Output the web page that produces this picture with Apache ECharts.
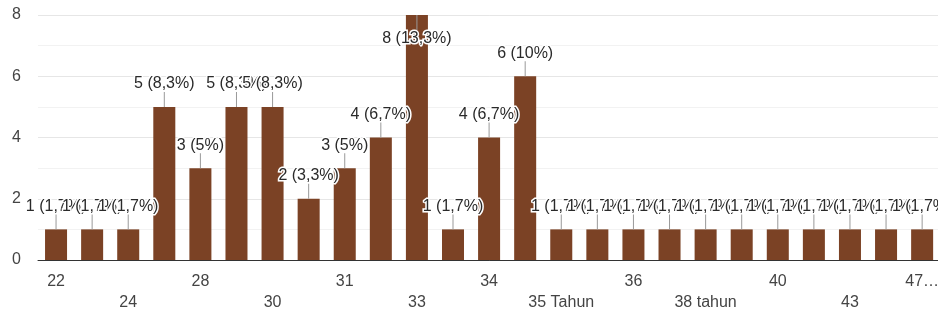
<!DOCTYPE html>
<html>
<head>
<meta charset="utf-8">
<script src="https://cdn.jsdelivr.net/npm/echarts@6/dist/echarts.min.js"></script>
<style>
  html, body { margin: 0; padding: 0; background: #fff; overflow: hidden; }
  #main { width: 942px; height: 313px; }
</style>
</head>
<body>
<div id="main"></div>
<script>
// data (hidden in-between labels are guesses)
var categories = ["22", "23", "24", "25", "28", "29", "30", "30 tahun", "31", "32", "33", "33 tahun",
  "34", "35", "35 Tahun", "35 tahun", "36", "37", "38 tahun", "39", "40", "42", "43", "45", "47 tahun"];
var counts = [1, 1, 1, 5, 3, 5, 5, 2, 3, 4, 8, 1, 4, 6, 1, 1, 1, 1, 1, 1, 1, 1, 1, 1, 1];
var yTicks = [0, 2, 4, 6, 8];

var total = counts.reduce(function (a, b) { return a + b; }, 0);
function pct(v) {
  var p = Math.round(v / total * 1000) / 10;
  return String(p).replace(".", ",") + "%";
}

var myChart = echarts.init(document.getElementById("main"));

// tallest bar gets its label inside, like the original
var yMax = yTicks[yTicks.length - 1];
var barData = counts.map(function (v) {
  if (v === yMax) {
    return { value: v, label: { position: "insideTop", distance: 16 } };
  }
  return v;
});
var stemData = counts.map(function (v) {
  if (v === yMax) {
    return { value: v, symbolOffset: [0, 0] };
  }
  return v;
});

var option = {
  animation: false,
  grid: { left: 38, right: 0, top: 15, bottom: 53 },
  xAxis: {
    type: "category",
    data: categories,
    axisLine: { lineStyle: { color: "#333", width: 1 } },
    axisTick: { show: false },
    axisLabel: {
      interval: 1,
      color: "#444",
      fontFamily: "Liberation Sans, Arial",
      fontSize: 16,
      lineHeight: 21,
      margin: 11,
      formatter: function (value, index) {
        var txt = value;
        if (index === categories.length - 1) txt = value.slice(0, 2) + "…";
        return index % 4 === 2 ? "\n" + txt : txt;
      }
    }
  },
  yAxis: {
    type: "value",
    min: 0,
    max: yMax,
    interval: 2,
    axisLine: { show: false },
    axisTick: { show: false },
    axisLabel: {
      color: "#444",
      fontFamily: "Liberation Sans, Arial",
      fontSize: 16,
      margin: 17
    },
    splitLine: { lineStyle: { color: "#e6e6e6" } },
    minorTick: { show: false, splitNumber: 2 },
    minorSplitLine: { show: true, lineStyle: { color: "#f2f2f2" } }
  },
  series: [
    {
      name: "jumlah",
      type: "bar",
      data: barData,
      barWidth: "61%",
      itemStyle: { color: "#7b4225" },
      z: 2,
      label: {
        show: true,
        position: "top",
        distance: 15,
        color: "#2a2a2a",
        fontFamily: "Liberation Sans, Arial",
        fontSize: 16,
        textBorderColor: "#fff",
        textBorderWidth: 3,
        formatter: function (p) {
          return p.value + " (" + pct(p.value) + ")";
        }
      }
    },
    {
      name: "stem",
      type: "pictorialBar",
      data: stemData,
      symbol: "rect",
      symbolSize: [1, 15],
      symbolPosition: "end",
      symbolOffset: [0, "-100%"],
      itemStyle: { color: "#999" },
      z: 3,
      silent: true
    }
  ]
};

myChart.setOption(option);
</script>
</body>
</html>
